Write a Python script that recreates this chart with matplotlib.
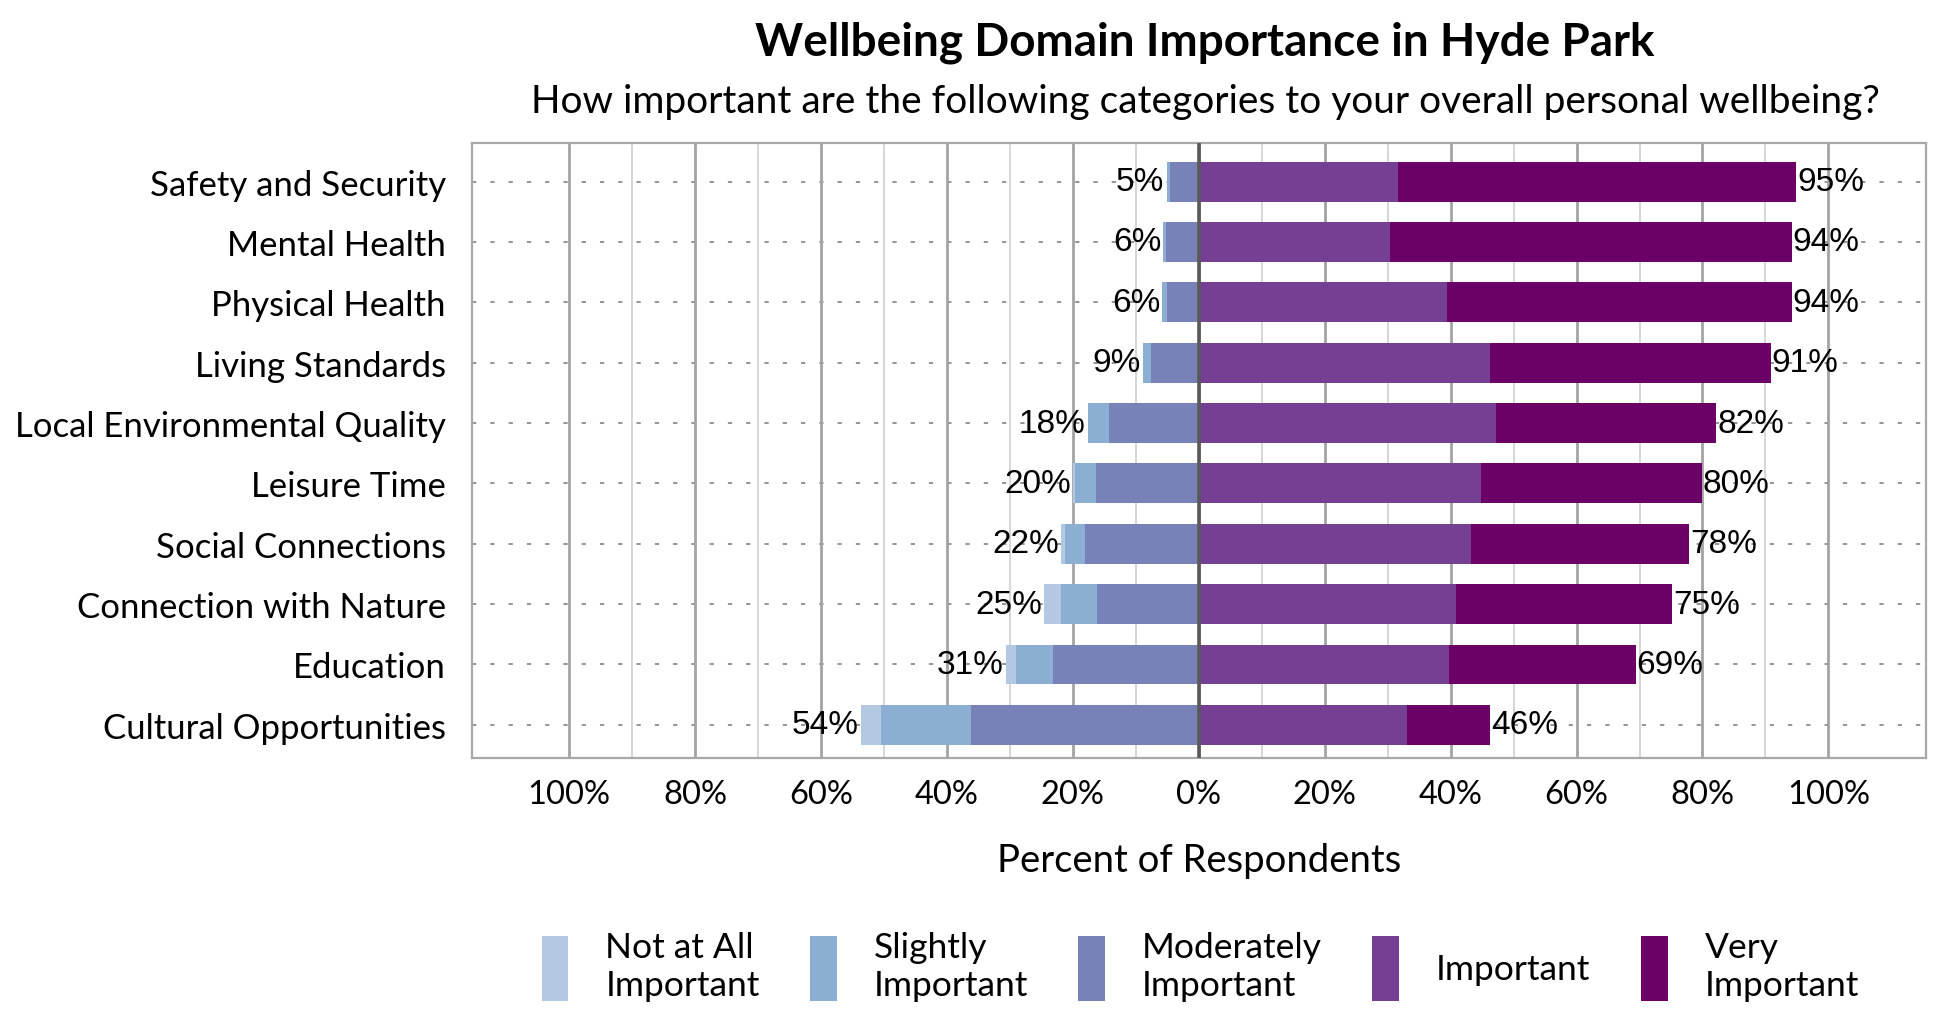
import numpy as np
import matplotlib
matplotlib.use("Agg")
import matplotlib.pyplot as plt
from matplotlib.ticker import FixedLocator

# DATA
categories = ["Safety and Security", "Mental Health", "Physical Health", "Living Standards",
              "Local Environmental Quality", "Leisure Time", "Social Connections",
              "Connection with Nature", "Education", "Cultural Opportunities"]
not_at_all = [0.0, 0.0, 0.0, 0.0, 0.0, 0.3, 0.6, 2.7, 1.6, 3.2]
slightly = [0.5, 0.4, 0.7, 1.3, 3.4, 3.3, 3.2, 5.8, 5.9, 14.3]
moderately = [4.6, 5.2, 5.1, 7.6, 14.2, 16.3, 18.0, 16.1, 23.1, 36.1]
important = [31.6, 30.3, 39.5, 46.3, 47.2, 44.8, 43.3, 40.8, 39.7, 33.0]
very_important = [63.3, 63.9, 54.7, 44.6, 35.0, 35.1, 34.6, 34.4, 29.7, 13.3]

legend_labels = ["Not at All\nImportant", "Slightly\nImportant", "Moderately\nImportant",
                 "Important", "Very\nImportant"]
x_ticks = [-100, -80, -60, -40, -20, 0, 20, 40, 60, 80, 100]
x_minor = [-90, -70, -50, -30, -10, 10, 30, 50, 70, 90]

# STYLE
COLORS = ["#b3c9e1", "#8caed3", "#7882b8", "#753f94", "#6b0066"]
TEXT_FONT = ["Lato", "DejaVu Sans"]
NUM_FONT = ["Liberation Sans", "DejaVu Sans"]
GRID_MAJOR = "#a3a3a3"
GRID_MINOR = "#cfcfcf"

fig = plt.figure(figsize=(19.5, 10.2), dpi=100)
ax = fig.add_axes([0.2421, 0.2559, 0.7456, 0.6029])

y = np.arange(len(categories))
neg1 = np.array(moderately)
neg2 = np.array(slightly)
neg3 = np.array(not_at_all)
pos1 = np.array(important)
pos2 = np.array(very_important)
BAR_H = 0.66

# dotted category guide lines
for yi in y:
    ax.axhline(yi, color="#959595", lw=1.4, linestyle=(0, (2.2, 7.2)), zorder=0)

# bars
ax.barh(y, -neg1, height=BAR_H, color=COLORS[2], label=legend_labels[2], zorder=2)
ax.barh(y, -neg2, left=-neg1, height=BAR_H, color=COLORS[1], label=legend_labels[1], zorder=2)
ax.barh(y, -neg3, left=-(neg1 + neg2), height=BAR_H, color=COLORS[0], label=legend_labels[0], zorder=2)
ax.barh(y, pos1, height=BAR_H, color=COLORS[3], label=legend_labels[3], zorder=2)
ax.barh(y, pos2, left=pos1, height=BAR_H, color=COLORS[4], label=legend_labels[4], zorder=2)

# totals
neg_total = neg1 + neg2 + neg3
pos_total = pos1 + pos2
for yi, nt, pt in zip(y, neg_total, pos_total):
    ax.annotate(f"{int(round(nt))}%", (-nt, yi), xytext=(-1.5, 0), textcoords="offset points",
                ha="right", va="center", fontsize=24, family=NUM_FONT, color="black", zorder=4)
    ax.annotate(f"{int(round(pt))}%", (pt, yi), xytext=(0.5, 0), textcoords="offset points",
                ha="left", va="center", fontsize=24, family=NUM_FONT, color="black", zorder=4)

# zero line
ax.axvline(0, color="#595959", lw=2.6, zorder=3)

# axes limits and grid
ax.set_xlim(-115.4, 115.5)
ax.set_ylim(len(categories) - 1 + 0.55, -0.64)
ax.set_xticks(x_ticks)
ax.set_xticklabels([f"{abs(t)}%" for t in x_ticks])
ax.xaxis.set_minor_locator(FixedLocator(x_minor))
ax.grid(axis="x", which="major", color=GRID_MAJOR, lw=2.0, zorder=1)
ax.grid(axis="x", which="minor", color=GRID_MINOR, lw=1.2, zorder=1)
ax.set_axisbelow(True)

ax.set_yticks(y)
ax.set_yticklabels(categories)
ax.tick_params(axis="both", which="both", length=0)
ax.tick_params(axis="y", pad=19, labelsize=25)
ax.tick_params(axis="x", pad=15, labelsize=23.5)
for lab in ax.get_xticklabels() + ax.get_yticklabels():
    lab.set_family(TEXT_FONT)

for s in ax.spines.values():
    s.set_color("#a8a8a8")
    s.set_linewidth(1.6)

ax.set_xlabel("Percent of Respondents", fontsize=27.5, family=TEXT_FONT, labelpad=24)

# titles
fig.text(0.618, 0.958, "Wellbeing Domain Importance in Hyde Park", ha="center", va="center",
         fontsize=33, fontweight="bold", family=TEXT_FONT)
fig.text(0.618, 0.900, "How important are the following categories to your overall personal wellbeing?",
         ha="center", va="center", fontsize=28, family=TEXT_FONT)

# legend in original order
handles, labels = ax.get_legend_handles_labels()
order = [2, 1, 0, 3, 4]
handles = [handles[i] for i in order]
labels = [labels[i] for i in order]
fig.legend(handles, labels, loc="center", bbox_to_anchor=(0.6155, 0.052), ncol=5, frameon=False,
           prop={"family": TEXT_FONT, "size": 25.5}, handlelength=0.76, handleheight=2.45,
           handletextpad=1.04, columnspacing=1.42)

fig.savefig("out.png", dpi=100, facecolor="white")
